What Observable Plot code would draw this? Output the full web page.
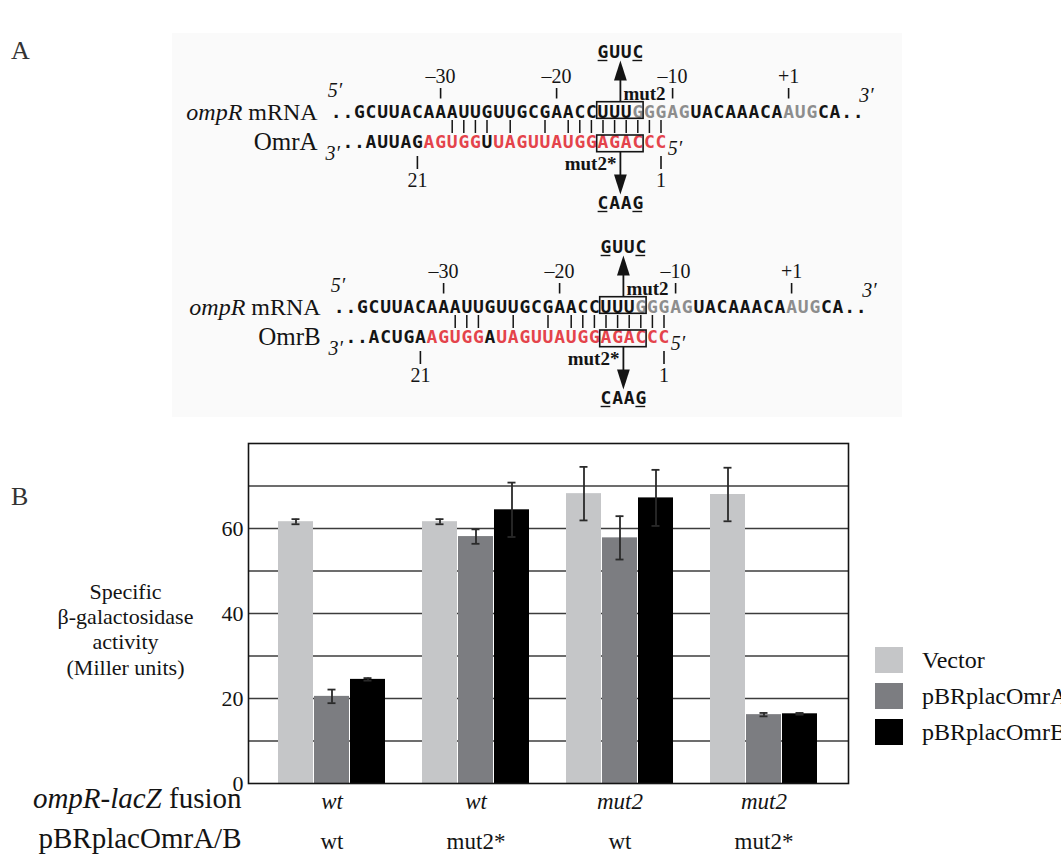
<!DOCTYPE html>
<html>
<head>
<meta charset="utf-8">
<script src="https://cdn.jsdelivr.net/npm/d3@7"></script>
<script src="https://cdn.jsdelivr.net/npm/@observablehq/plot@0.6"></script>
<style>
  html, body { margin: 0; padding: 0; background: #ffffff; }
  #root { position: relative; width: 1061px; height: 860px; overflow: hidden; font-family: "Liberation Serif", "Times New Roman", serif; color: #111; }
  .panel { position: absolute; left: 0; }
  .shade { position: absolute; }
  .plabel { position: absolute; font-size: 26px; color: #333; line-height: 1; }
  .legend { position: absolute; left: 875px; top: 642px; }
  .legend .item { display: flex; align-items: center; height: 36px; }
  .legend .sw { width: 28px; height: 26px; }
  .legend .tx { margin-left: 19px; font-size: 24px; white-space: nowrap; }
</style>
</head>
<body>
<div id="root">
  <div class="shade" style="left:172px;top:33px;width:730px;height:384px;background:#fafafa;"></div>
  <div class="plabel" style="left:11px;top:38px;">A</div>
  <div class="plabel" style="left:11px;top:484px;">B</div>
</div>
<script>
// ---------------- Panel A data ----------------
const mrnaSeq = "GCUUACAAAUUGUUGCGAACCUUUGGGAGUACAAACAAUGCA";
const mrnaGrayIdx = [24, 25, 26, 27, 28, 37, 38, 39];
const mrnaPositions = [
  {label: "\u201330", i: 7},
  {label: "\u201320", i: 17},
  {label: "\u201310", i: 27},
  {label: "+1", i: 37}
];
const omrASeq = "AUUAGAGUGGUUAGUUAUGGAGACCC";   // positions 1..26 under the mRNA grid
const omrBSeq = "ACUGAAGUGGAUAGUUAUGGAGACCC";
const srnaRedIdx = [6, 7, 8, 9, 10, 12, 13, 14, 15, 16, 17, 18, 19, 20, 21, 22, 23, 24, 25, 26];
const pairsOmrA = [8, 9, 10, 11, 13, 16, 18, 19, 20, 21, 22, 23, 24, 25, 26];
const pairsOmrB = [8, 9, 10, 13, 16, 18, 19, 20, 21, 22, 23, 24, 25, 26];
const srnaPositions = [{label: "21", i: 5}, {label: "1", i: 26}];
const mutBox = {from: 21, to: 24};
const mut2Seq = "GUUC";
const mut2StarSeq = "CAAG";
const underlinedOffsets = [0, 3];
const mrnaStartDots = [-2, -1];
const mrnaEndDots = [42, 43];
const srnaStartDots = [-1, 0];

// ---------------- Panel B data ----------------
const groups = ["wt|wt", "wt|mut2*", "mut2|wt", "mut2|mut2*"];
const fusionLabels = ["wt", "wt", "mut2", "mut2"];
const plasmidLabels = ["wt", "mut2*", "wt", "mut2*"];
const seriesNames = ["Vector", "pBRplacOmrA", "pBRplacOmrB"];
const seriesColors = ["#c5c6c8", "#7c7d81", "#000000"];
const vectorValues = [61.6, 61.6, 68.2, 68.0];
const vectorErrors = [0.6, 0.6, 6.3, 6.3];
const omrAValues = [20.5, 58.1, 57.8, 16.2];
const omrAErrors = [1.6, 1.7, 5.1, 0.4];
const omrBValues = [24.5, 64.4, 67.2, 16.4];
const omrBErrors = [0.3, 6.4, 6.6, 0.2];
const yTickValues = [0, 20, 40, 60];
const gridValues = [10, 20, 30, 40, 50, 60, 70];

// ---------------- helpers ----------------
const SERIF = "Liberation Serif";
const MONO = "DejaVu Sans Mono";
const INK = "#141414";

function styleSegments(svg, full, parts) {
  d3.select(svg).selectAll("text").each(function () {
    if (this.textContent === full) {
      const el = d3.select(this);
      el.text(null);
      parts.forEach(([t, italic]) => el.append("tspan").attr("font-style", italic ? "italic" : "normal").text(t));
    }
  });
}

const arrowUp = {draw(ctx, size) { const r = Math.sqrt(size / Math.PI); ctx.moveTo(0, -r); ctx.lineTo(0.64 * r, r); ctx.lineTo(-0.64 * r, r); ctx.closePath(); }};
const arrowDown = {draw(ctx, size) { const r = Math.sqrt(size / Math.PI); ctx.moveTo(0, r); ctx.lineTo(0.64 * r, -r); ctx.lineTo(-0.64 * r, -r); ctx.closePath(); }};

// ---------------- Panel A ----------------
const X0 = 358.9, CW = 11.6, WIDTH = 1061, HA = 420;

function diagram(srnaName, srnaSeq, pairs, top, dx) {
  const Y = v => v + top;
  const mrnaLetters = [...mrnaSeq].map((c, k) => ({i: k, c, col: mrnaGrayIdx.includes(k) ? "#8d8d8d" : INK}));
  const srnaLetters = [...srnaSeq].map((c, k) => ({i: k + 1, c, col: srnaRedIdx.includes(k + 1) ? "#e4434b" : INK}));
  const mutTop = [...mut2Seq].map((c, k) => ({i: mutBox.from + k, c}));
  const mutBot = [...mut2StarSeq].map((c, k) => ({i: mutBox.from + k, c}));
  const under = underlinedOffsets.map(k => ({i: mutBox.from + k}));
  const mid = (mutBox.from + mutBox.to) / 2;
  const seqFont = {fontFamily: MONO, fontSize: 18, fontWeight: "bold", dx};
  return [
    // row labels
    Plot.text(["ompR mRNA"], {text: d => d, x: -3.6, y: Y(111.7), textAnchor: "end", fontFamily: SERIF, fontSize: 24, fill: INK, dx}),
    Plot.text([srnaName], {text: d => d, x: -3.6, y: Y(141.7), textAnchor: "end", fontFamily: SERIF, fontSize: 25, fill: INK, dx}),
    // position numbering above mRNA
    Plot.text(mrnaPositions, {x: "i", y: Y(76.5), text: "label", fontFamily: SERIF, fontSize: 20, fill: INK, dx}),
    Plot.ruleX(mrnaPositions, {x: "i", y1: Y(88), y2: Y(98.5), stroke: INK, strokeWidth: 1.6, dx}),
    // 5' / 3' ends
    Plot.text(["5\u2032"], {text: d => d, x: -2.1, y: Y(90), fontFamily: SERIF, fontStyle: "italic", fontSize: 20, fill: INK, dx}),
    Plot.text(["3\u2032"], {text: d => d, x: 43.7, y: Y(95), fontFamily: SERIF, fontStyle: "italic", fontSize: 20, fill: INK, dx}),
    Plot.text(["3\u2032"], {text: d => d, x: -2.3, y: Y(153), fontFamily: SERIF, fontStyle: "italic", fontSize: 20, fill: INK, dx}),
    Plot.text(["5\u2032"], {text: d => d, x: 27.2, y: Y(148), fontFamily: SERIF, fontStyle: "italic", fontSize: 20, fill: INK, dx}),
    // dots
    Plot.text([...mrnaStartDots, ...mrnaEndDots], {x: d => d, y: Y(111.7), text: () => ".", ...seqFont, fill: INK}),
    Plot.text(srnaStartDots, {x: d => d, y: Y(141.7), text: () => ".", ...seqFont, fill: INK}),
    // sequences
    Plot.text(mrnaLetters, {x: "i", y: Y(111.7), text: "c", fill: "col", ...seqFont}),
    Plot.text(srnaLetters, {x: "i", y: Y(141.7), text: "c", fill: "col", ...seqFont}),
    // base-pairing bars
    Plot.ruleX(pairs, {x: d => d, y1: Y(120), y2: Y(133), stroke: INK, strokeWidth: 1.5, dx}),
    // mutation boxes
    Plot.rect([mutBox], {x1: d => d.from - 0.5, x2: d => d.to + 0.5, y1: Y(101.7), y2: Y(118.3), fill: "none", stroke: INK, strokeWidth: 1.6, dx}),
    Plot.rect([mutBox], {x1: d => d.from - 0.5, x2: d => d.to + 0.5, y1: Y(135), y2: Y(151.7), fill: "none", stroke: INK, strokeWidth: 1.6, dx}),
    // sRNA numbering below
    Plot.ruleX(srnaPositions, {x: "i", y1: Y(156), y2: Y(169), stroke: INK, strokeWidth: 1.6, dx}),
    Plot.text(srnaPositions, {x: "i", y: Y(180), text: "label", fontFamily: SERIF, fontSize: 20, fill: INK, dx}),
    // arrows
    Plot.ruleX([mid], {x: d => d, y1: Y(78), y2: Y(101.7), stroke: INK, strokeWidth: 1.8, dx}),
    Plot.dot([mid], {x: d => d, y: Y(70), r: 10, symbol: arrowUp, fill: INK, stroke: "none", dx}),
    Plot.ruleX([mid], {x: d => d, y1: Y(151.7), y2: Y(176), stroke: INK, strokeWidth: 1.8, dx}),
    Plot.dot([mid], {x: d => d, y: Y(184), r: 10, symbol: arrowDown, fill: INK, stroke: "none", dx}),
    // mutant labels
    Plot.text(["mut2"], {text: d => d, x: mid, y: Y(93), dx: dx + 3, textAnchor: "start", fontFamily: SERIF, fontWeight: "bold", fontSize: 19, fill: INK}),
    Plot.text(["mut2*"], {text: d => d, x: mid, y: Y(163), dx: dx - 4, textAnchor: "end", fontFamily: SERIF, fontWeight: "bold", fontSize: 19, fill: INK}),
    // mutated sequences
    Plot.text(mutTop, {x: "i", y: Y(51.5), text: "c", ...seqFont, fill: INK}),
    Plot.ruleY(under, {y: Y(60), x1: d => d.i - 0.42, x2: d => d.i + 0.42, stroke: INK, strokeWidth: 1.4, dx}),
    Plot.text(mutBot, {x: "i", y: Y(202.5), text: "c", ...seqFont, fill: INK}),
    Plot.ruleY(under.map(d => ({i: d.i})), {y: Y(211), x1: d => d.i - 0.42, x2: d => d.i + 0.42, stroke: INK, strokeWidth: 1.4, dx})
  ];
}

const plotA = Plot.plot({
  width: WIDTH, height: HA, margin: 0,
  x: {type: "linear", domain: [-X0 / CW, (WIDTH - X0) / CW], range: [0, WIDTH], axis: null},
  y: {type: "linear", domain: [0, HA], range: [0, HA], axis: null},
  color: {type: "identity"},
  style: {background: "transparent", fontFamily: SERIF, overflow: "visible"},
  marks: [
    ...diagram("OmrA", omrASeq, pairsOmrA, 0, 0),
    ...diagram("OmrB", omrBSeq, pairsOmrB, 195, 3)
  ]
});
styleSegments(plotA, "ompR mRNA", [["ompR", true], [" mRNA", false]]);
plotA.classList.add("panel");
plotA.style.top = "0px";
document.getElementById("root").appendChild(plotA);

// ---------------- Panel B ----------------
const valuesBySeries = [vectorValues, omrAValues, omrBValues];
const errorsBySeries = [vectorErrors, omrAErrors, omrBErrors];
const rows = [];
seriesNames.forEach((s, k) => groups.forEach((g, j) => rows.push({series: s, k, group: g, value: valuesBySeries[k][j], err: errorsBySeries[k][j]})));
const groupRows = groups.map((g, j) => ({group: g, fusion: fusionLabels[j], plasmid: plasmidLabels[j]}));

const BAR = 36;
const barMarks = [];
seriesNames.forEach((s, k) => {
  const d = rows.filter(r => r.k === k);
  barMarks.push(Plot.barY(d, {x: "group", y: "value", fill: "series", insetLeft: BAR * k, insetRight: BAR * (2 - k)}));
});
const errMarks = [];
seriesNames.forEach((s, k) => {
  const d = rows.filter(r => r.k === k);
  const dx = BAR * (k - 1);
  errMarks.push(Plot.ruleX(d, {x: "group", y1: r => r.value - r.err, y2: r => r.value + r.err, dx, stroke: "#2a2a2a", strokeWidth: 1.8}));
  errMarks.push(Plot.tickY(d, {x: "group", y: r => r.value + r.err, dx, insetLeft: 49.5, insetRight: 49.5, stroke: "#2a2a2a", strokeWidth: 1.8}));
  errMarks.push(Plot.tickY(d, {x: "group", y: r => r.value - r.err, dx, insetLeft: 49.5, insetRight: 49.5, stroke: "#2a2a2a", strokeWidth: 1.8}));
});

const plotB = Plot.plot({
  width: WIDTH, height: 440,
  marginLeft: 248, marginRight: 213, marginTop: 23, marginBottom: 77,
  x: {domain: groups, paddingInner: 0.255, paddingOuter: 0.198, axis: null},
  y: {domain: [0, 80], ticks: yTickValues, tickSize: 0, tickPadding: 5, label: null},
  color: {domain: seriesNames, range: seriesColors},
  style: {background: "transparent", fontFamily: SERIF, fontSize: "22px", color: INK, overflow: "visible"},
  marks: [
    Plot.ruleY(gridValues, {stroke: "#3c3c3c", strokeWidth: 1.4}),
    ...barMarks,
    ...errMarks,
    Plot.frame({stroke: INK, strokeWidth: 1.6}),
    Plot.text(groupRows, {x: "group", text: "fusion", frameAnchor: "bottom", dy: 25, fontStyle: "italic", fontSize: 23, fill: INK}),
    Plot.text(groupRows, {x: "group", text: "plasmid", frameAnchor: "bottom", dy: 65, fontSize: 23, fill: INK}),
    Plot.text(["ompR-lacZ fusion"], {text: d => d, frameAnchor: "bottom-left", dx: -7, dy: 24, textAnchor: "end", fontSize: 29, fill: INK}),
    Plot.text(["pBRplacOmrA/B"], {text: d => d, frameAnchor: "bottom-left", dx: -7, dy: 64, textAnchor: "end", fontSize: 29, fill: INK}),
    Plot.text(["Specific\n\u03b2-galactosidase\nactivity\n(Miller units)"], {text: d => d, frameAnchor: "left", dx: -123, dy: 15, textAnchor: "middle", lineHeight: 1.15, fontSize: 22, fill: INK})
  ]
});
styleSegments(plotB, "ompR-lacZ fusion", [["ompR-lacZ", true], [" fusion", false]]);
plotB.classList.add("panel");
plotB.style.top = "420px";
document.getElementById("root").appendChild(plotB);

// legend built from the plot's colour scale
const cs = plotB.scale("color");
const legend = d3.select("#root").append("div").attr("class", "legend");
cs.domain.forEach((name, k) => {
  const item = legend.append("div").attr("class", "item");
  item.append("div").attr("class", "sw").style("background", cs.range[k]);
  item.append("div").attr("class", "tx").text(name);
});
</script>
</body>
</html>
